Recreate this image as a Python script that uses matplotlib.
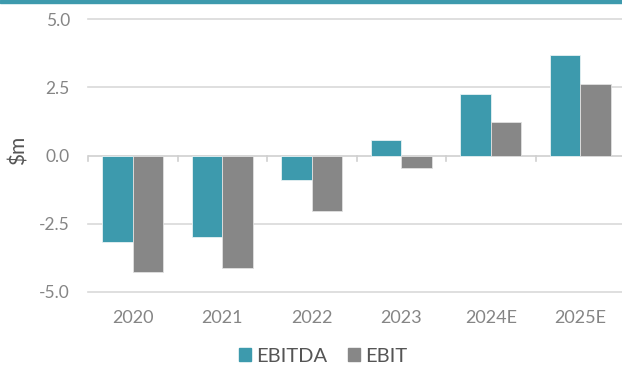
import matplotlib.pyplot as plt
from matplotlib.patches import Rectangle, Patch

years  = ["2020", "2021", "2022", "2023", "2024E", "2025E"]
ebitda = [-3.18, -3.0, -0.88, 0.58, 2.25, 3.68]
ebit   = [-4.28, -4.13, -2.05, -0.44, 1.22, 2.62]
yticks = [-5.0, -2.5, 0.0, 2.5, 5.0]

TEAL = "#3d9aad"
GREY = "#878787"
TICK = "#858585"
TXT  = "#555555"

plt.rcParams["font.family"] = ["Lato", "DejaVu Sans"]

fig = plt.figure(figsize=(6.22, 3.69), dpi=100)
ax = fig.add_axes([88 / 622, 77 / 369, 534 / 622, 273 / 369])

# teal strip along the top edge
fig.patches.append(Rectangle((0, 1 - 3 / 369), 1, 3 / 369, transform=fig.transFigure,
                             color=TEAL, zorder=0))

x = list(range(len(years)))
w = 0.34
ax.bar([i - w / 2 for i in x], ebitda, w, color=TEAL, edgecolor="#e8f2f4", linewidth=0.6, zorder=3)
ax.bar([i + w / 2 for i in x], ebit, w, color=GREY, edgecolor="#e0e0e0", linewidth=0.6, zorder=3)

ax.set_ylim(-5, 5)
ax.set_xlim(-0.5, (622 - 88) / 89.5 - 0.5)
ax.set_yticks(yticks)
ax.set_yticklabels([f"{v:.1f}" for v in yticks], color=TICK, fontsize=12.5)
for v in yticks:
    if v != 0:
        ax.axhline(v, color="#d9d9d9", linewidth=1.2, zorder=1, clip_on=False)

# category axis at zero with small boundary ticks
ax.axhline(0, color="#d0d0d0", linewidth=1.2, zorder=2)
for i in range(len(years) + 1):
    ax.plot([i - 0.5, i - 0.5], [0, -0.2], color="#d0d0d0", linewidth=1.2, zorder=2, clip_on=False)

ax.set_xticks(x)
ax.set_xticklabels(years, color=TICK, fontsize=13)
ax.tick_params(axis="x", length=0, pad=13)
ax.tick_params(axis="y", length=0, pad=13)
for s in ax.spines.values():
    s.set_visible(False)

ax.set_ylabel("$m", color=TXT, fontsize=15)
ax.yaxis.set_label_coords(-59 / 534, 0.52)

fig.legend(handles=[Patch(color=TEAL, label="EBITDA"), Patch(color=GREY, label="EBIT")],
           loc="center", bbox_to_anchor=(323 / 622, 1 - 356 / 369), ncol=2, frameon=False,
           fontsize=14.5, handlelength=0.6, handleheight=0.6, handletextpad=0.25,
           columnspacing=1.0, labelcolor=TXT)

fig.savefig("out.png", dpi=100)
